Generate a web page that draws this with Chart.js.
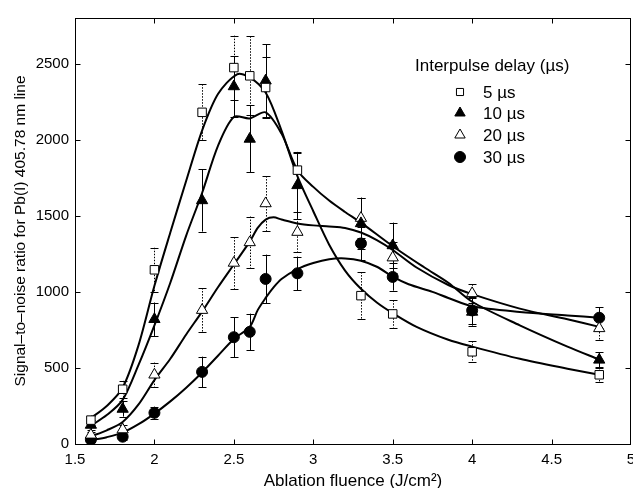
<!DOCTYPE html>
<html>
<head>
<meta charset="utf-8">
<script src="https://cdn.jsdelivr.net/npm/chart.js@4/dist/chart.umd.min.js"></script>
<style>
html,body{margin:0;padding:0;background:#fff;}
#wrap{width:633px;height:488px;position:relative;}
</style>
</head>
<body>
<div id="wrap"><canvas id="c" width="633" height="488"></canvas></div>
<script>
// ---- data ----
const fluence = [1.6, 1.8, 2.0, 2.3, 2.5, 2.6, 2.7, 2.9, 3.3, 3.5, 4.0, 4.8];
const snr5  = [157, 360, 1145, 2180, 2474, 2420, 2343, 1800, 975, 855, 606, 455];
const snr10 = [125, 230, 820, 1601, 2350, 2005, 2388, 1700, 1450, 1305, 868, 553];
const snr20 = [60, 95, 455, 880, 1190, 1325, 1581, 1393, 1485, 1225, 990, 760];
const snr30 = [28, 48, 205, 474, 702, 737, 1085, 1122, 1318, 1098, 878, 830];
const err5  = [30, 55, 145, 185, 210, 260, 200, 110, 155, 90, 70, 45];
const err10 = [30, 50, 110, 205, 200, 220, 240, 220, 170, 150, 90, 50];
const err20 = [20, 30, 80, 145, 170, 170, 180, 130, 130, 100, 60, 75];
const err30 = [15, 20, 40, 100, 130, 120, 160, 110, 110, 90, 90, 70];

// fitted curves
const fit5X  = [1.6,1.7,1.8,1.9,2.0,2.1,2.2,2.3,2.4,2.52,2.6,2.7,2.8,2.9,3.0,3.1,3.2,3.3,3.4,3.5,3.65,3.85,4.0,4.3,4.6,4.8];
const fit5Y  = [170,250,370,650,1040,1390,1730,2060,2300,2430,2410,2310,2060,1760,1530,1310,1140,1020,930,860,770,685,640,560,495,455];
const fit10X = [1.6,1.7,1.8,1.9,2.0,2.1,2.2,2.3,2.4,2.5,2.6,2.7,2.8,2.9,3.0,3.1,3.2,3.3,3.5,3.7,3.85,4.0,4.3,4.6,4.8];
const fit10Y = [120,190,290,520,780,1060,1370,1650,1960,2150,2140,2180,2040,1800,1690,1600,1525,1455,1300,1160,1060,935,780,640,555];
const fit20X = [1.6,1.7,1.8,1.9,2.0,2.1,2.2,2.3,2.4,2.5,2.6,2.65,2.7,2.75,2.8,2.9,3.0,3.1,3.2,3.3,3.4,3.5,3.65,3.85,4.0,4.3,4.6,4.8];
const fit20Y = [50,90,145,260,420,560,720,870,1030,1180,1330,1420,1475,1490,1475,1450,1437,1430,1420,1390,1340,1275,1160,1045,985,890,820,770];
const fit30X = [1.6,1.7,1.8,1.9,2.0,2.1,2.2,2.3,2.4,2.5,2.6,2.65,2.7,2.75,2.8,2.9,3.0,3.1,3.2,3.3,3.4,3.5,3.6,3.75,3.85,4.0,4.3,4.6,4.8];
const fit30Y = [25,45,75,130,200,280,370,470,580,690,770,880,960,1030,1085,1150,1190,1215,1220,1205,1165,1100,1050,1000,960,905,868,845,830];

const seriesLabels = ['5 \u00b5s', '10 \u00b5s', '20 \u00b5s', '30 \u00b5s'];
const legendTitle = 'Interpulse delay (\u00b5s)';
const xTickValues = [1.5, 2, 2.5, 3, 3.5, 4, 4.5, 5];
const yTickValues = [0, 500, 1000, 1500, 2000, 2500];
const xTitle = 'Ablation fluence (J/cm\u00b2)';
const yTitle = 'Signal\u2013to\u2013noise ratio for Pb(I) 405.78 nm line';

// ---- build ----
const FONT = "'Liberation Sans', Arial, Helvetica, sans-serif";
Chart.defaults.font.family = FONT;
Chart.defaults.color = '#000';

const pts = (xs, ys) => xs.map((x, i) => ({x: x, y: ys[i]}));

const markerDefs = [
  {label: seriesLabels[0], data: snr5,  err: err5,  style: 'rect',     fill: '#fff', r: 6,   lr: 5,   dash: [1.5, 1.5]},
  {label: seriesLabels[1], data: snr10, err: err10, style: 'triangle', fill: '#000', r: 6.5, lr: 6,   dash: []},
  {label: seriesLabels[2], data: snr20, err: err20, style: 'triangle', fill: '#fff', r: 6.5, lr: 6,   dash: [1.5, 1.5]},
  {label: seriesLabels[3], data: snr30, err: err30, style: 'circle',   fill: '#000', r: 5.5, lr: 5.5, dash: []}
];
const fits = [[fit5X, fit5Y], [fit10X, fit10Y], [fit20X, fit20Y], [fit30X, fit30Y]];

const datasets = [];
fits.forEach((f, i) => {
  datasets.push({
    label: 'fit ' + seriesLabels[i], data: pts(f[0], f[1]), showLine: true,
    borderColor: '#000', borderWidth: 2, pointRadius: 0, tension: 0.3,
    fill: false, order: 2
  });
});
markerDefs.forEach((m) => {
  datasets.push({
    label: m.label, data: pts(fluence, m.data), showLine: false,
    pointStyle: m.style, pointRadius: m.r, pointBackgroundColor: m.fill,
    pointBorderColor: '#000', pointBorderWidth: 1, order: 1, errs: m.err, dash: m.dash
  });
});

const errorBars = {
  id: 'errorBars',
  beforeDatasetsDraw(chart) {
    const ctx = chart.ctx, xs = chart.scales.x, ys = chart.scales.y;
    ctx.save();
    ctx.strokeStyle = '#000';
    ctx.lineWidth = 1;
    chart.data.datasets.forEach((ds) => {
      if (!ds.errs) return;
      ds.data.forEach((p, i) => {
        const px = Math.round(xs.getPixelForValue(p.x)) + 0.5;
        const y1 = ys.getPixelForValue(p.y + ds.errs[i]);
        const y2 = ys.getPixelForValue(p.y - ds.errs[i]);
        ctx.setLineDash(ds.dash);
        ctx.beginPath();
        ctx.moveTo(px, y1); ctx.lineTo(px, y2);
        ctx.stroke();
        ctx.setLineDash([]);
        ctx.beginPath();
        ctx.moveTo(px - 4, Math.round(y1) + 0.5); ctx.lineTo(px + 4, Math.round(y1) + 0.5);
        ctx.moveTo(px - 4, Math.round(y2) + 0.5); ctx.lineTo(px + 4, Math.round(y2) + 0.5);
        ctx.stroke();
      });
    });
    ctx.restore();
  }
};

const frame = {
  id: 'frame',
  afterDraw(chart) {
    const ctx = chart.ctx, a = chart.chartArea, xs = chart.scales.x, ys = chart.scales.y;
    ctx.save();
    ctx.strokeStyle = '#000';
    ctx.lineWidth = 1;
    const L = Math.round(a.left) + 0.5, R = Math.round(a.right) - 0.5;
    const T = Math.round(a.top) + 0.5, B = Math.round(a.bottom) + 0.5;
    ctx.strokeRect(L, T, R - L, B - T);
    ctx.beginPath();
    xs.ticks.forEach((t) => {
      const px = Math.round(xs.getPixelForValue(t.value)) + 0.5;
      if (px <= L + 1 || px >= R - 1) return;
      ctx.moveTo(px, B); ctx.lineTo(px, B - 5);
      ctx.moveTo(px, T); ctx.lineTo(px, T + 5);
    });
    ys.ticks.forEach((t) => {
      const py = Math.round(ys.getPixelForValue(t.value)) + 0.5;
      if (py >= B - 1 || py <= T + 1) return;
      ctx.moveTo(L, py); ctx.lineTo(L + 5, py);
      ctx.moveTo(R, py); ctx.lineTo(R - 5, py);
    });
    ctx.stroke();

    // legend
    ctx.fillStyle = '#000';
    ctx.font = '17px ' + FONT;
    ctx.textBaseline = 'middle';
    ctx.textAlign = 'left';
    ctx.fillText(legendTitle, 415, 66);
    const rowY = [92, 113, 135, 157];
    markerDefs.forEach((m, i) => {
      ctx.fillStyle = m.fill;
      ctx.strokeStyle = '#000';
      ctx.lineWidth = 1;
      Chart.helpers.drawPoint(ctx, {pointStyle: m.style, radius: m.lr, borderWidth: 1}, 460, rowY[i]);
      ctx.fillStyle = '#000';
      ctx.fillText(m.label, 483, rowY[i] + 1);
    });
    ctx.restore();
  }
};

new Chart(document.getElementById('c'), {
  type: 'line',
  data: {datasets: datasets},
  options: {
    responsive: false,
    animation: false,
    events: [],
    layout: {autoPadding: false, padding: {top: 18, right: 2, left: 0, bottom: 0}},
    plugins: {legend: {display: false}, tooltip: {enabled: false}},
    scales: {
      x: {
        type: 'linear', min: 1.5, max: 5,
        grid: {display: false, drawTicks: false},
        border: {display: false},
        afterBuildTicks: (s) => { s.ticks = xTickValues.map(v => ({value: v})); },
        afterFit: (s) => { s.height = 44; s.paddingLeft = 0; s.paddingRight = 0; },
        ticks: {font: {size: 15}, padding: 7, maxRotation: 0, autoSkip: false, callback: (v) => String(v)},
        title: {display: true, text: xTitle, font: {size: 17, lineHeight: 0.8}, padding: {top: 0, bottom: 0}}
      },
      y: {
        type: 'linear', min: 0, max: 2800,
        grid: {display: false, drawTicks: false},
        border: {display: false},
        afterBuildTicks: (s) => { s.ticks = yTickValues.map(v => ({value: v})); },
        afterFit: (s) => { s.width = 75; s.paddingTop = 0; s.paddingBottom = 0; },
        ticks: {font: {size: 15}, padding: 6, callback: (v) => String(v)},
        title: {display: true, text: yTitle, font: {size: 15.5}, padding: {top: 11, bottom: 0}}
      }
    }
  },
  plugins: [errorBars, frame]
});
</script>
</body>
</html>
